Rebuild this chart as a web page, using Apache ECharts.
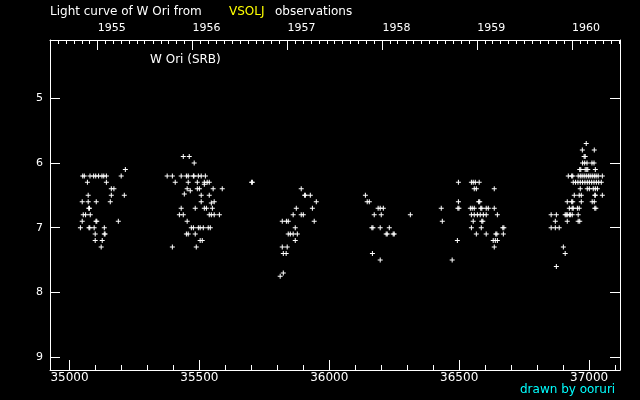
<!DOCTYPE html>
<html><head><meta charset="utf-8">
<script src="https://cdn.jsdelivr.net/npm/echarts@6/dist/echarts.min.js"></script>
<style>html,body{margin:0;padding:0;background:#000}#c{width:640px;height:400px}</style>
</head><body><div id="c"></div>
<script>
// JD - 2400000, visual magnitude
const season1955 = [
 [35215,6.1],
 [35051,6.2],[35057,6.2],[35079,6.2],[35093,6.2],[35101,6.2],[35112,6.2],[35125,6.2],[35132,6.2],[35142,6.2],[35199,6.2],
 [35069,6.3],[35142,6.3],
 [35161,6.4],[35171,6.4],
 [35072,6.5],[35161,6.5],[35211,6.5],
 [35049,6.6],[35072,6.6],[35103,6.6],[35157,6.6],
 [35074,6.7],[35077,6.7],
 [35053,6.8],[35062,6.8],[35080,6.8],
 [35049,6.9],[35102,6.9],[35105,6.9],[35188,6.9],
 [35042,7.0],[35075,7.0],[35078,7.0],[35095,7.0],[35134,7.0],
 [35099,7.1],[35134,7.1],[35137,7.1],
 [35099,7.2],[35126,7.2],
 [35122,7.3]
];
const season1956 = [
 [35438,5.9],[35461,5.9],
 [35480,6.0],
 [35376,6.2],[35396,6.2],[35430,6.2],[35450,6.2],[35457,6.2],[35477,6.2],[35479,6.2],[35496,6.2],[35507,6.2],[35523,6.2],
 [35407,6.3],[35457,6.3],[35492,6.3],[35519,6.3],[35530,6.3],[35538,6.3],[35519,6.33],
 [35453,6.4],[35492,6.4],[35500,6.4],[35553,6.4],[35588,6.4],[35465,6.43],
 [35442,6.48],[35507,6.5],[35538,6.5],
 [35507,6.6],[35557,6.6],[35546,6.62],
 [35430,6.7],[35484,6.7],[35519,6.7],[35527,6.7],[35550,6.7],
 [35423,6.8],[35438,6.8],[35538,6.8],[35546,6.8],[35557,6.8],[35577,6.8],
 [35453,6.9],
 [35469,7.0],[35477,7.0],[35496,7.0],[35503,7.0],[35515,7.0],[35534,7.0],[35542,7.0],
 [35450,7.1],[35457,7.1],[35484,7.1],
 [35503,7.2],[35511,7.2],
 [35396,7.3],[35488,7.3]
];
const season1957 = [
 [35701,6.3],[35704,6.3],
 [35892,6.4],
 [35905,6.5],[35908,6.5],[35927,6.5],
 [35950,6.6],
 [35873,6.7],[35935,6.7],
 [35861,6.8],[35892,6.8],[35900,6.8],
 [35819,6.9],[35835,6.9],[35842,6.9],[35942,6.9],
 [35869,7.0],
 [35842,7.1],[35850,7.1],[35861,7.1],[35877,7.1],
 [35869,7.2],
 [35819,7.3],[35838,7.3],
 [35823,7.4],[35834,7.4],
 [35823,7.7],[35811,7.75]
];
const season1958 = [
 [36139,6.5],
 [36146,6.6],[36154,6.6],
 [36188,6.7],[36196,6.7],[36208,6.7],
 [36173,6.8],[36200,6.8],[36312,6.8],
 [36164,7.0],[36168,7.0],[36196,7.0],[36231,7.0],
 [36219,7.1],[36223,7.1],[36246,7.1],[36250,7.1],
 [36166,7.4],
 [36196,7.5]
];
const season1959 = [
 [36497,6.3],[36547,6.3],[36554,6.3],[36562,6.3],[36577,6.3],
 [36558,6.4],[36566,6.4],[36635,6.4],
 [36497,6.6],[36575,6.6],[36579,6.6],
 [36431,6.7],[36495,6.7],[36499,6.7],[36543,6.7],[36550,6.7],[36558,6.7],[36583,6.7],[36587,6.7],[36604,6.7],[36612,6.7],[36635,6.7],
 [36547,6.8],[36558,6.8],[36570,6.8],[36581,6.8],[36593,6.8],[36604,6.8],[36647,6.8],
 [36435,6.9],[36554,6.9],[36587,6.9],[36591,6.9],
 [36547,7.0],[36585,7.0],[36668,7.0],[36672,7.0],
 [36566,7.1],[36604,7.1],[36641,7.1],[36645,7.1],[36670,7.1],
 [36493,7.2],[36631,7.2],[36639,7.2],[36647,7.2],
 [36635,7.3],
 [36473,7.5]
];
const season1960 = [
 [36989,5.7],
 [36974,5.8],[37020,5.8],
 [36981,5.9],[36985,5.9],
 [36975,6.0],[36983,6.0],[36992,6.0],[37011,6.0],[37019,6.0],
 [36964,6.1],[36968,6.1],[36985,6.1],[36991,6.1],[36995,6.1],[37024,6.1],
 [36920,6.2],[36933,6.2],[36937,6.2],[36958,6.2],[36966,6.2],[36973,6.2],[36981,6.2],[36989,6.2],[36997,6.2],[37004,6.2],[37012,6.2],[37020,6.2],[37027,6.2],[37035,6.2],[37051,6.2],
 [36939,6.3],[36948,6.3],[36957,6.3],[36966,6.3],[36975,6.3],[36984,6.3],[36993,6.3],[37001,6.3],[37010,6.3],[37019,6.3],[37028,6.3],[37037,6.3],[37047,6.3],
 [36966,6.4],[36993,6.4],[37001,6.4],[37016,6.4],[37024,6.4],[37032,6.4],
 [36943,6.5],[36962,6.5],[36970,6.5],[37022,6.5],[37024,6.5],[37051,6.5],
 [36916,6.6],[36933,6.6],[36937,6.6],[36970,6.6],[37012,6.6],[37020,6.6],
 [36924,6.7],[36935,6.7],[36939,6.7],[36955,6.7],[36962,6.7],[37022,6.7],[37026,6.7],
 [36854,6.8],[36874,6.8],[36908,6.8],[36912,6.8],[36916,6.8],[36924,6.8],[36928,6.8],[36935,6.8],[36958,6.8],
 [36870,6.9],[36916,6.9],[36958,6.9],[36964,6.9],
 [36854,7.0],[36870,7.0],[36885,7.0],
 [36901,7.3],
 [36908,7.4],
 [36874,7.6]
];

const xTickValues = [35000, 35500, 36000, 36500, 37000];
const yTickValues = [5, 6, 7, 8, 9];
const yearLabels = [1955, 1956, 1957, 1958, 1959, 1960];

const X_MIN = 34925, X_MAX = 37119;
const Y_MIN = 4.1, Y_MAX = 9.2;
const FONT = 'DejaVu Sans';

function jdOf(y, m) { return Date.UTC(y, m, 1) / 864e5 + 40587.5; }
const yearJD = yearLabels.map(y => jdOf(y, 0));
const monthJD = [];
for (let y = 1954; y <= 1961; y++) for (let m = 0; m < 12; m++) {
  const v = jdOf(y, m);
  if (v > X_MIN && v < X_MAX) monthJD.push(v);
}
const minorX = [];
for (let v = 35000; v < X_MAX; v += 100) minorX.push(v);

const W = '#ffffff';
const gridRect = { left: 50, right: 20, top: 40, bottom: 30 };
const plus = 'path://M2,0L3,0L3,5L2,5Z M0,2L5,2L5,3L0,3Z';

const seasons = [season1955, season1956, season1957, season1958, season1959, season1960];

const chart = echarts.init(document.getElementById('c'), null, { renderer: 'canvas' });
chart.setOption({
  backgroundColor: '#000000',
  animation: false,
  grid: [Object.assign({}, gridRect), Object.assign({}, gridRect)],
  xAxis: [
    { gridIndex: 0, type: 'value', position: 'bottom', min: X_MIN, max: X_MAX,
      axisLine: { show: true, lineStyle: { color: W, width: 1 } },
      axisTick: { show: true, inside: true, length: 10, customValues: xTickValues, lineStyle: { color: W } },
      axisLabel: { customValues: xTickValues, color: W, fontSize: 12, fontFamily: FONT, margin: 2,
        formatter: v => String(Math.round(v)) },
      splitLine: { show: false } },
    { gridIndex: 0, type: 'value', position: 'top', min: X_MIN, max: X_MAX,
      axisLine: { show: true, lineStyle: { color: W, width: 1 } },
      axisTick: { show: true, inside: true, length: 10, customValues: yearJD, lineStyle: { color: W } },
      axisLabel: { customValues: yearJD, color: W, fontSize: 11, fontFamily: FONT, margin: 6, align: 'left',
        formatter: v => { let b = 0; yearJD.forEach((j, i) => { if (Math.abs(j - v) < Math.abs(yearJD[b] - v)) b = i; }); return String(yearLabels[b]); } },
      splitLine: { show: false } },
    { gridIndex: 1, type: 'value', position: 'bottom', min: X_MIN, max: X_MAX,
      axisLine: { show: false },
      axisTick: { show: true, inside: true, length: 5, customValues: minorX, lineStyle: { color: W } },
      axisLabel: { show: false }, splitLine: { show: false } },
    { gridIndex: 1, type: 'value', position: 'top', min: X_MIN, max: X_MAX,
      axisLine: { show: false },
      axisTick: { show: true, inside: true, length: 4, customValues: monthJD, lineStyle: { color: W } },
      axisLabel: { show: false }, splitLine: { show: false } }
  ],
  yAxis: [
    { gridIndex: 0, type: 'value', position: 'left', inverse: true, min: Y_MIN, max: Y_MAX,
      axisLine: { show: true, lineStyle: { color: W, width: 1 } },
      axisTick: { show: true, inside: true, length: 10, customValues: yTickValues, lineStyle: { color: W } },
      axisLabel: { customValues: yTickValues, color: W, fontSize: 11, fontFamily: FONT, margin: 7 },
      splitLine: { show: false } },
    { gridIndex: 0, type: 'value', position: 'right', inverse: true, min: Y_MIN, max: Y_MAX,
      axisLine: { show: true, lineStyle: { color: W, width: 1 } },
      axisTick: { show: true, inside: true, length: 10, customValues: yTickValues, lineStyle: { color: W } },
      axisLabel: { show: false }, splitLine: { show: false } },
    { gridIndex: 1, type: 'value', show: false, inverse: true, min: Y_MIN, max: Y_MAX, splitLine: { show: false } }
  ],
  series: seasons.map(d => ({
    type: 'scatter', xAxisIndex: 0, yAxisIndex: 0, data: d,
    symbol: plus, symbolSize: 5,
    itemStyle: { color: W, opacity: 1 },
    emphasis: { disabled: true }
  })),
  graphic: [
    { type: 'text', left: 50, top: 6, style: { text: 'Light curve of W Ori from', fill: W, font: '12px "DejaVu Sans"' } },
    { type: 'text', left: 229, top: 6, style: { text: 'VSOLJ', fill: '#ffff00', font: '12px "DejaVu Sans"' } },
    { type: 'text', left: 275, top: 6, style: { text: 'observations', fill: W, font: '12px "DejaVu Sans"' } },
    { type: 'text', left: 150, top: 54, style: { text: 'W Ori (SRB)', fill: W, font: '12px "DejaVu Sans"' } },
    { type: 'text', left: 520, top: 384, style: { text: 'drawn by ooruri', fill: '#00ffff', font: '12px "DejaVu Sans"' } }
  ]
});
</script>
</body></html>
